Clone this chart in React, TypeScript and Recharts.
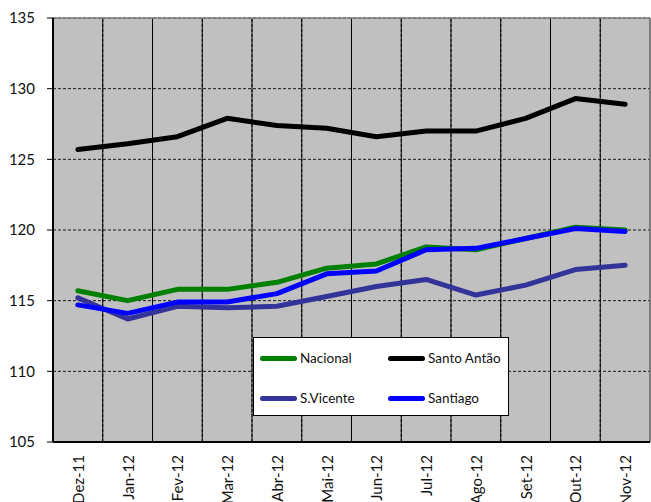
import React from "react";
import { LineChart, Line, XAxis, YAxis, CartesianGrid, ReferenceLine } from "recharts";

const months = ["Dez-11", "Jan-12", "Fev-12", "Mar-12", "Abr-12", "Mai-12", "Jun-12", "Jul-12", "Ago-12", "Set-12", "Out-12", "Nov-12"];

const nacional = [115.7, 115.0, 115.8, 115.8, 116.3, 117.3, 117.6, 118.8, 118.6, 119.4, 120.2, 120.0];
const santoAntao = [125.7, 126.1, 126.6, 127.9, 127.4, 127.2, 126.6, 127.0, 127.0, 127.9, 129.3, 128.9];
const sVicente = [115.2, 113.7, 114.6, 114.5, 114.6, 115.3, 116.0, 116.5, 115.4, 116.1, 117.2, 117.5];
const santiago = [114.7, 114.1, 114.9, 114.9, 115.5, 116.9, 117.1, 118.6, 118.7, 119.4, 120.1, 119.9];

const yTicks = [105, 110, 115, 120, 125, 130, 135];

const series = [
  { key: "nacional", name: "Nacional", color: "#008000" },
  { key: "santoAntao", name: "Santo Antão", color: "#000000" },
  { key: "sVicente", name: "S.Vicente", color: "#333399" },
  { key: "santiago", name: "Santiago", color: "#0000FF" },
];

const data = months.map((m, i) => ({
  month: m,
  nacional: nacional[i],
  santoAntao: santoAntao[i],
  sVicente: sVicente[i],
  santiago: santiago[i],
}));

const FONT = "Lato, 'Open Sans', sans-serif";
const W = 651;
const H = 502;

function MonthTick(props: any) {
  const { x, y, payload } = props;
  return (
    <text
      x={x}
      y={y}
      dy={6}
      transform={`rotate(-90, ${x}, ${y})`}
      textAnchor="end"
      fontFamily={FONT}
      fontSize={15}
      fill="#111"
    >
      {payload.value}
    </text>
  );
}

function LegendBox() {
  const cells = [
    { s: series[0], left: 0, top: 0 },
    { s: series[1], left: 128, top: 0 },
    { s: series[2], left: 0, top: 40 },
    { s: series[3], left: 128, top: 40 },
  ];
  return (
    <div
      style={{
        position: "absolute",
        left: 253,
        top: 337,
        width: 256,
        height: 79,
        boxSizing: "border-box",
        border: "1px solid #000",
        background: "#fff",
        fontFamily: FONT,
        fontSize: 13.5,
        color: "#111",
      }}
    >
      {cells.map(({ s, left, top }) => (
        <div
          key={s.key}
          style={{ position: "absolute", left: left + 6, top: top + 10, display: "flex", alignItems: "center", height: 20 }}
        >
          <span
            style={{ display: "inline-block", width: 37, height: 5, borderRadius: 3, background: s.color, marginRight: 3 }}
          />
          <span>{s.name}</span>
        </div>
      ))}
    </div>
  );
}

export default function App() {
  return (
    <div style={{ position: "relative", width: W, height: H }}>
      <style>{"body{margin:0}"}</style>
      <LineChart width={W} height={H} data={data} margin={{ top: 18, right: 1, left: 0, bottom: 0 }}>
        <CartesianGrid fill="#C0C0C0" stroke="#1a1a1a" strokeDasharray="3 2" vertical={false} />
        {/* vertical grid lines on the borders between month bands, with small tick marks below the axis */}
        {months.slice(1).map((m) => (
          <ReferenceLine key={m} x={m} position="start" stroke="#1a1a1a" strokeWidth={1} strokeDasharray="3 2" />
        ))}
        {months.map((m) => (
          <ReferenceLine
            key={`t-${m}`}
            x={m}
            position="start"
            ifOverflow="visible"
            segment={[{ x: m, y: 105 }, { x: m, y: 104.65 }]}
            stroke="#000"
            strokeWidth={1}
          />
        ))}
        <ReferenceLine
          x="Nov-12"
          position="end"
          ifOverflow="visible"
          segment={[{ x: "Nov-12", y: 105 }, { x: "Nov-12", y: 104.65 }]}
          stroke="#000"
          strokeWidth={1}
        />
        <XAxis
          dataKey="month"
          scale="band"
          height={60}
          interval={0}
          axisLine={{ stroke: "#000", strokeWidth: 2 }}
          tickLine={false}
          tickSize={0}
          tickMargin={13}
          tick={<MonthTick />}
        />
        <YAxis
          domain={[105, 135]}
          ticks={yTicks}
          width={53}
          interval={0}
          tickSize={6}
          tickMargin={12}
          tickLine={{ stroke: "#000" }}
          axisLine={{ stroke: "#000", strokeWidth: 2 }}
          tick={{ fontFamily: FONT, fontSize: 15, fill: "#111" }}
        />
        <ReferenceLine y={135} stroke="#808080" strokeWidth={1.5} />
        <ReferenceLine x="Nov-12" position="end" stroke="#808080" strokeWidth={1.5} />
        {series.map((s) => (
          <Line
            key={s.key}
            type="linear"
            dataKey={s.key}
            name={s.name}
            stroke={s.color}
            strokeWidth={5}
            strokeLinecap="round"
            strokeLinejoin="round"
            dot={false}
            activeDot={false}
            isAnimationActive={false}
          />
        ))}
      </LineChart>
      <LegendBox />
    </div>
  );
}
